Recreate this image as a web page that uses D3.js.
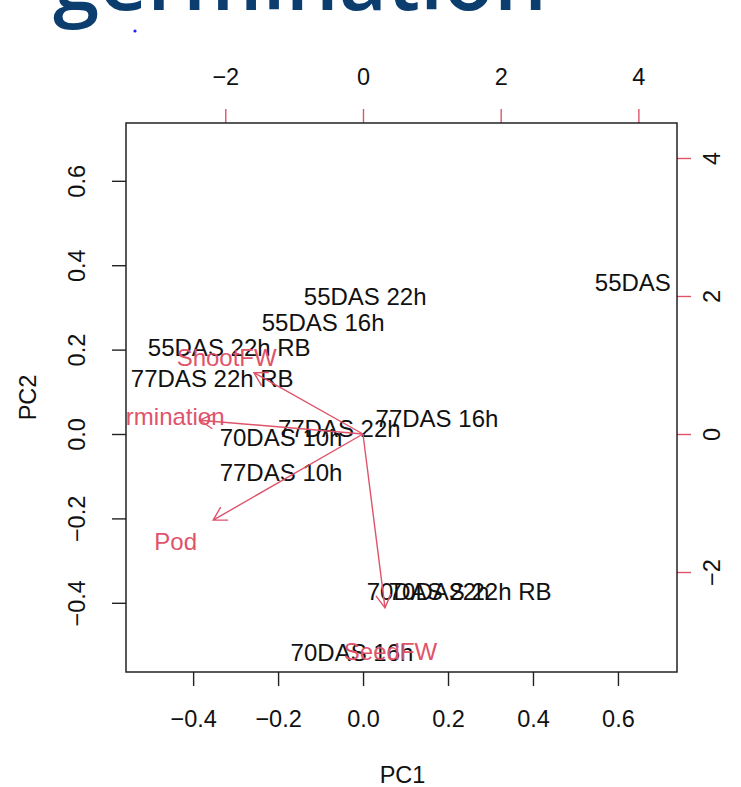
<!DOCTYPE html>
<html>
<head>
<meta charset="utf-8">
<script src="https://cdn.jsdelivr.net/npm/d3@7"></script>
<style>
  body { margin: 0; background: white; }
  svg { display: block; }
</style>
</head>
<body>
<div class="Biplot"></div>
<script>
// Scores (black labels), in PC1/PC2 units
const sampleNames = [
  "55DAS", "55DAS 22h", "55DAS 16h", "55DAS 22h RB", "77DAS 22h RB",
  "77DAS 16h", "77DAS 22h", "70DAS 10h", "77DAS 10h",
  "70DAS 22h RB", "70DAS 22h", "70DAS 16h"
];
const pc1Scores = [0.635, 0.005, -0.094, -0.315, -0.355, 0.174, -0.056, -0.193, -0.193, 0.252, 0.153, -0.026];
const pc2Scores = [0.360, 0.325, 0.265, 0.206, 0.133, 0.038, 0.014, -0.009, -0.092, -0.374, -0.374, -0.517];

// Variables (red arrows), in the secondary axis units
const varNames = ["Germination", "ShootFW", "Pod", "SeedFW"];
const varPC1 = [-2.96, -1.98, -2.72, 0.40];
const varPC2 = [0.25, 1.11, -1.56, -3.15];

// Tick labels
const pcTicksX = [-0.4, -0.2, 0.0, 0.2, 0.4, 0.6];
const pcTicksY = [-0.4, -0.2, 0.0, 0.2, 0.4, 0.6];
const varTicks = [-2, 0, 2, 4];

const width = 741;
const height = 787;
const red = "#DF536B";
const font = "'Liberation Sans', Arial, sans-serif";
const fontSize = 23.5;
const labelSize = 24;

const box = { left: 126, right: 677, top: 123, bottom: 672 };

const svg = d3
  .select(".Biplot")
  .append("svg")
  .attr("width", width)
  .attr("height", height);

// Slide title, cut off at the top
const title = svg
  .append("text")
  .attr("x", 53)
  .attr("y", 10)
  .attr("fill", "#0b3d6e")
  .style("font-family", "'Open Sans', 'Noto Sans', sans-serif")
  .style("font-weight", 600)
  .style("font-size", "72px")
  .text("germination");
const tw = title.node().getComputedTextLength();
title.style("font-size", `${(72 * 494) / tw}px`);

svg.append("circle").attr("cx", 135).attr("cy", 31).attr("r", 1.6).attr("fill", "#2020ff");

// Scales
const xScale = d3.scaleLinear().domain([-0.558, 0.739]).range([box.left, box.right]);
const yScale = d3.scaleLinear().domain([-0.564, 0.737]).range([box.bottom, box.top]);
const x2Scale = d3.scaleLinear().domain([-3.442, 4.561]).range([box.left, box.right]);
const y2Scale = d3.scaleLinear().domain([-3.449, 4.507]).range([box.bottom, box.top]);

svg
  .append("clipPath")
  .attr("id", "plot-clip")
  .append("rect")
  .attr("x", box.left)
  .attr("y", box.top)
  .attr("width", box.right - box.left)
  .attr("height", box.bottom - box.top);

const plot = svg.append("g").attr("clip-path", "url(#plot-clip)");

// Sample labels
plot
  .selectAll(".score")
  .data(sampleNames)
  .enter()
  .append("text")
  .attr("class", "score")
  .attr("x", (d, i) => xScale(pc1Scores[i]))
  .attr("y", (d, i) => yScale(pc2Scores[i]))
  .attr("dy", "0.36em")
  .attr("text-anchor", "middle")
  .attr("fill", "#111")
  .style("font-family", font)
  .style("font-size", `${labelSize}px`)
  .text((d) => d);

// Arrows drawn to 0.8 of the label position, like biplot()
const x0 = x2Scale(0);
const y0 = y2Scale(0);
const headLen = 15;
const headAngle = Math.PI / 6;

varNames.forEach((name, i) => {
  const tx = x2Scale(varPC1[i] * 0.8);
  const ty = y2Scale(varPC2[i] * 0.8);
  const ang = Math.atan2(ty - y0, tx - x0);
  const p = d3.path();
  p.moveTo(x0, y0);
  p.lineTo(tx, ty);
  p.moveTo(tx - headLen * Math.cos(ang - headAngle), ty - headLen * Math.sin(ang - headAngle));
  p.lineTo(tx, ty);
  p.lineTo(tx - headLen * Math.cos(ang + headAngle), ty - headLen * Math.sin(ang + headAngle));
  plot
    .append("path")
    .attr("d", p.toString())
    .attr("fill", "none")
    .attr("stroke", red)
    .attr("stroke-width", 1.4);

  plot
    .append("text")
    .attr("x", x2Scale(varPC1[i]))
    .attr("y", y2Scale(varPC2[i]))
    .attr("dy", "0.36em")
    .attr("text-anchor", "middle")
    .attr("fill", red)
    .style("font-family", font)
    .style("font-size", `${labelSize}px`)
    .text(name);
});

// Axes
function styleAxis(g, tickColor) {
  g.select(".domain").remove();
  g.selectAll(".tick line").attr("stroke", tickColor).attr("stroke-width", 1.4);
  g.selectAll(".tick text")
    .attr("fill", "#111")
    .style("font-family", font)
    .style("font-size", `${fontSize}px`);
}

svg
  .append("g")
  .attr("transform", `translate(0,${box.bottom})`)
  .call(d3.axisBottom(xScale).tickValues(pcTicksX).tickFormat(d3.format(".1f")).tickSize(14).tickPadding(24))
  .call((g) => styleAxis(g, "#222"));

svg
  .append("g")
  .attr("transform", `translate(0,${box.top})`)
  .call(d3.axisTop(x2Scale).tickValues(varTicks).tickFormat(d3.format("d")).tickSize(14).tickPadding(24))
  .call((g) => styleAxis(g, red));

const leftAxis = svg
  .append("g")
  .attr("transform", `translate(${box.left},0)`)
  .call(d3.axisLeft(yScale).tickValues(pcTicksY).tickFormat(d3.format(".1f")).tickSize(14))
  .call((g) => styleAxis(g, "#222"));
leftAxis
  .selectAll(".tick text")
  .attr("x", null)
  .attr("dy", null)
  .attr("text-anchor", "middle")
  .attr("transform", "translate(-41,0) rotate(-90)");

const rightAxis = svg
  .append("g")
  .attr("transform", `translate(${box.right},0)`)
  .call(d3.axisRight(y2Scale).tickValues(varTicks).tickFormat(d3.format("d")).tickSize(14))
  .call((g) => styleAxis(g, red));
rightAxis
  .selectAll(".tick text")
  .attr("x", null)
  .attr("dy", null)
  .attr("text-anchor", "middle")
  .attr("transform", "translate(43,0) rotate(-90)");

// Box
svg
  .append("rect")
  .attr("x", box.left)
  .attr("y", box.top)
  .attr("width", box.right - box.left)
  .attr("height", box.bottom - box.top)
  .attr("fill", "none")
  .attr("stroke", "#222")
  .attr("stroke-width", 1.5);

// Axis titles
svg
  .append("text")
  .attr("x", (box.left + box.right) / 2 + 1)
  .attr("y", 775)
  .attr("dy", "0.36em")
  .attr("text-anchor", "middle")
  .attr("fill", "#111")
  .style("font-family", font)
  .style("font-size", `${fontSize}px`)
  .text("PC1");

svg
  .append("text")
  .attr("transform", `translate(28,${(box.top + box.bottom) / 2}) rotate(-90)`)
  .attr("dy", "0.36em")
  .attr("text-anchor", "middle")
  .attr("fill", "#111")
  .style("font-family", font)
  .style("font-size", `${fontSize}px`)
  .text("PC2");
</script>
</body>
</html>
